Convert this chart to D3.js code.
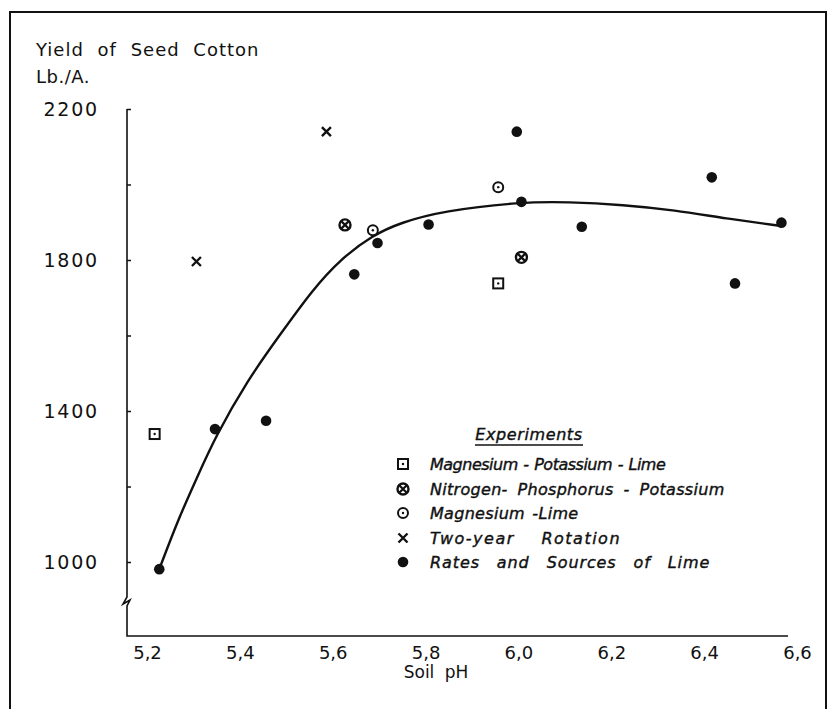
<!DOCTYPE html>
<html>
<head>
<meta charset="utf-8">
<script src="https://cdn.jsdelivr.net/npm/d3@7"></script>
<style>
body { margin: 0; background: #fff; }
text { font-family: "DejaVu Sans", sans-serif; fill: #111; }
</style>
</head>
<body>
<svg id="chart" width="831" height="709"></svg>
<script>
// values (pH, lb/A)
let magPotLime = [[5.21, 1339], [5.95, 1738]]
let nitPhosPot = [[5.62, 1893], [6.00, 1807]]
let magLime = [[5.68, 1879], [5.95, 1993]]
let twoYear = [[5.30, 1796], [5.58, 2140]]
let ratesLime = [[5.22, 981], [5.34, 1352], [5.45, 1374], [5.64, 1762], [5.69, 1845], [5.80, 1894],
    [5.99, 2140], [6.00, 1954], [6.13, 1888], [6.41, 2019], [6.46, 1738], [6.56, 1899]]

// fitted curve
let curvePH = [5.22, 5.26, 5.30, 5.34, 5.41, 5.48, 5.55, 5.61, 5.68, 5.74, 5.83, 6.00, 6.10, 6.22, 6.33, 6.44, 6.56]
let curveYield = [981, 1111, 1220, 1330, 1482, 1602, 1721, 1802, 1866, 1899, 1930, 1954, 1954, 1946, 1932, 1910, 1890]

let xTicks = [5.2, 5.4, 5.6, 5.8, 6.0, 6.2, 6.4, 6.6]
let yLabelTicks = [1000, 1400, 1800, 2200]
let yMinorTicks = [1000, 1200, 1400, 1600, 1800, 2000, 2200]

let legendLabels = ["Magnesium - Potassium - Lime", "Nitrogen- Phosphorus - Potassium",
    "Magnesium -Lime", "Two-year Rotation", "Rates and Sources of Lime"]
let legendSymbols = ["square", "otimes", "odot", "cross", "dot"]

let axisX = 127
let axisY = 636

let svg = d3.select("#chart")

let xScale = d3.scaleLinear().domain([5.2, 6.6]).range([150, 800])
let yScale = d3.scaleLinear().domain([1000, 2200]).range([562, 109])

// frame
svg.append("path")
    .attr("d", "M10,712 L10,12 L826,12 L826,712")
    .attr("fill", "none")
    .attr("stroke", "#111")
    .attr("stroke-width", 2)

// axis lines with break
svg.append("path")
    .attr("d", `M${axisX},109 L${axisX},597 L${axisX - 4},604 L${axisX + 3},600 L${axisX},606 L${axisX},${axisY} L788,${axisY}`)
    .attr("fill", "none")
    .attr("stroke", "#111")
    .attr("stroke-width", 1.6)

// y ticks point inward
svg.append("g")
    .attr("transform", `translate(${axisX},0)`)
    .call(d3.axisRight(yScale).tickValues(yMinorTicks).tickSize(4).tickFormat(""))
    .call(g => g.select(".domain").remove())
    .selectAll("line").attr("stroke", "#111").attr("stroke-width", 1.5)

svg.append("g")
    .attr("transform", `translate(${axisX},0)`)
    .call(d3.axisLeft(yScale).tickValues(yLabelTicks).tickSize(0).tickPadding(28).tickFormat(d3.format("d")))
    .call(g => g.select(".domain").remove())
    .selectAll("text")
    .attr("font-size", 19)
    .attr("font-family", "DejaVu Sans")
    .attr("letter-spacing", 1.8)
    .attr("fill", "#111")

svg.append("g")
    .attr("transform", `translate(-3,${axisY})`)
    .call(d3.axisBottom(xScale).tickValues(xTicks).tickSize(0).tickPadding(10)
        .tickFormat(d => d3.format(".1f")(d).replace(".", ",")))
    .call(g => g.select(".domain").remove())
    .selectAll("text")
    .attr("font-size", 18)
    .attr("font-family", "DejaVu Sans")
    .attr("fill", "#111")

svg.append("text")
    .text("Soil pH")
    .attr("x", 436)
    .attr("y", 678)
    .attr("text-anchor", "middle")
    .attr("font-size", 17)
    .attr("word-spacing", 5)

svg.append("text")
    .text("Yield of Seed Cotton")
    .attr("x", 36)
    .attr("y", 56)
    .attr("font-size", 18)
    .attr("letter-spacing", 1)
    .attr("word-spacing", 7)

svg.append("text")
    .text("Lb./A.")
    .attr("x", 36)
    .attr("y", 83)
    .attr("font-size", 18)
    .attr("letter-spacing", 0.5)

// fitted curve
let curvePts = curvePH.map((p, i) => [p, curveYield[i]])
svg.append("path")
    .datum(curvePts)
    .attr("d", d3.line().x(d => xScale(d[0])).y(d => yScale(d[1])).curve(d3.curveBasis))
    .attr("fill", "none")
    .attr("stroke", "#111")
    .attr("stroke-width", 2.4)

function drawSymbol(g, type, cx, cy) {
    if (type == "dot") {
        g.append("circle").attr("cx", cx).attr("cy", cy).attr("r", 5.3).attr("fill", "#111")
    } else if (type == "square") {
        g.append("rect").attr("x", cx - 5).attr("y", cy - 5).attr("width", 10).attr("height", 10)
            .attr("fill", "#fff").attr("stroke", "#111").attr("stroke-width", 2)
        g.append("circle").attr("cx", cx).attr("cy", cy).attr("r", 1.2).attr("fill", "#111")
    } else if (type == "odot") {
        g.append("circle").attr("cx", cx).attr("cy", cy).attr("r", 5)
            .attr("fill", "#fff").attr("stroke", "#111").attr("stroke-width", 2)
        g.append("circle").attr("cx", cx).attr("cy", cy).attr("r", 1.2).attr("fill", "#111")
    } else if (type == "otimes") {
        g.append("circle").attr("cx", cx).attr("cy", cy).attr("r", 5.5)
            .attr("fill", "#fff").attr("stroke", "#111").attr("stroke-width", 2.4)
        g.append("path")
            .attr("d", `M${cx - 3.5},${cy - 3.5}L${cx + 3.5},${cy + 3.5}M${cx + 3.5},${cy - 3.5}L${cx - 3.5},${cy + 3.5}`)
            .attr("stroke", "#111").attr("stroke-width", 2.2)
    } else if (type == "cross") {
        g.append("path")
            .attr("d", `M${cx - 4.5},${cy - 4.5}L${cx + 4.5},${cy + 4.5}M${cx + 4.5},${cy - 4.5}L${cx - 4.5},${cy + 4.5}`)
            .attr("stroke", "#111").attr("stroke-width", 2.4)
    }
}

let series = [
    {data: magPotLime, type: "square"},
    {data: nitPhosPot, type: "otimes"},
    {data: magLime, type: "odot"},
    {data: twoYear, type: "cross"},
    {data: ratesLime, type: "dot"}
]

let markGroup = svg.append("g").attr("id", "marks")
series.forEach(s => {
    s.data.forEach(d => drawSymbol(markGroup, s.type, xScale(d[0]), yScale(d[1])))
})

// legend
let legend = svg.append("g").attr("id", "legend")
legend.append("text")
    .text("Experiments")
    .attr("x", 529)
    .attr("y", 440)
    .attr("text-anchor", "middle")
    .attr("font-size", 16)
    .attr("font-style", "italic")
    .attr("letter-spacing", 0.6)
    .attr("stroke", "#111")
    .attr("stroke-width", 0.4)
legend.append("line")
    .attr("x1", 475).attr("x2", 583)
    .attr("y1", 445).attr("y2", 445)
    .attr("stroke", "#111").attr("stroke-width", 1.6)

let rowY = [464, 489, 513, 538, 562]
let rowLetter = [-0.5, 0.3, 0.3, 1.5, 0.9]
let rowWord = [1, 4.5, 2, 20, 11]
legendLabels.forEach((lab, i) => {
    drawSymbol(legend, legendSymbols[i], 403, rowY[i])
    legend.append("text")
        .text(lab)
        .attr("x", 430)
        .attr("y", rowY[i] + 6)
        .attr("font-size", 16)
        .attr("font-style", "italic")
        .attr("letter-spacing", rowLetter[i])
        .attr("word-spacing", rowWord[i])
        .attr("stroke", "#111")
        .attr("stroke-width", 0.4)
})
</script>
</body>
</html>
